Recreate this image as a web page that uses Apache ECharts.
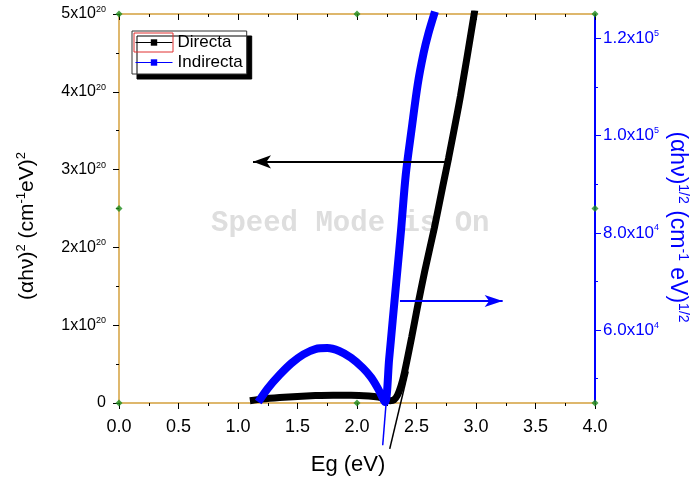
<!DOCTYPE html>
<html>
<head>
<meta charset="utf-8">
<script src="https://cdn.jsdelivr.net/npm/echarts@6/dist/echarts.min.js"></script>
<style>
  html, body { margin: 0; padding: 0; background: #fff; }
  #chart { width: 695px; height: 482px; }
</style>
</head>
<body>
<div id="chart"></div>
<script>
  // Directa: (alpha h nu)^2, left axis
  const directaX = [1.10, 1.20, 1.35, 1.50, 1.65, 1.80, 1.95, 2.10, 2.18, 2.24, 2.28, 2.31, 2.34, 2.37, 2.40, 2.46, 2.51, 2.57, 2.65, 2.72, 2.77, 2.87, 2.99]
  const directaY = [0.03e20, 0.05e20, 0.07e20, 0.085e20, 0.095e20, 0.10e20, 0.10e20, 0.09e20, 0.075e20, 0.05e20, 0.03e20, 0.04e20, 0.10e20, 0.22e20, 0.40e20, 0.85e20, 1.25e20, 1.70e20, 2.25e20, 2.78e20, 3.15e20, 3.95e20, 5.05e20]
  // Indirecta: (alpha h nu)^(1/2), right axis
  const indirectaX = [1.17, 1.25, 1.35, 1.45, 1.55, 1.65, 1.75, 1.85, 1.95, 2.05, 2.12, 2.18, 2.235, 2.27, 2.30, 2.34, 2.37, 2.41, 2.46, 2.51, 2.56, 2.60, 2.655]
  const indirectaY = [45200, 48000, 50800, 53200, 55000, 56100, 56300, 55700, 54300, 52200, 50200, 47800, 45200, 54000, 62000, 72500, 80500, 92000, 101500, 110500, 117000, 121000, 125500]
  // tangent lines (extrapolation to the energy axis)
  const tangentDirX = [2.275, 2.43]
  const tangentDirY = [-0.59e20, 0.405e20]
  const tangentIndX = [2.216, 2.36]
  const tangentIndY = [36300, 80000]
  // arrows pointing to the axis of each curve
  const arrowDirX = [2.765, 1.126]
  const arrowDirY = [3.10e20, 3.10e20]
  const arrowIndX = [2.361, 3.224]
  const arrowIndY = [66000, 66000]
  // tick values
  const xTicks = [0, 4, 0.5]
  const leftTicks = [0, 5e20, 1e20]
  const rightRange = [45000, 125000]
  const rightLabels = [60000, 80000, 100000, 120000]
  const rightMinor = [50000, 70000, 90000, 110000]
  // Origin selection handles
  const handleX = [0, 2, 4, 0, 2, 4, 0, 4]
  const handleY = [0, 0, 0, 5e20, 5e20, 5e20, 2.5e20, 2.5e20]

  const FONT = '"Liberation Sans", Arial, sans-serif'
  const GOLD = '#d4a03c'
  const BLUE = '#0000ff'

  const zip = (xs, ys) => xs.map((x, i) => [x, ys[i]])

  const myChart = echarts.init(document.getElementById('chart'))

  const xCommon = {
    type: 'value',
    min: xTicks[0],
    max: xTicks[1],
    interval: xTicks[2],
    splitLine: { show: false },
    axisLine: { show: true, onZero: false, lineStyle: { color: GOLD, width: 1.5 } },
  }

  const option = {
    animation: false,
    grid: { left: 119, right: 100, top: 14, bottom: 79, containLabel: false },
    legend: {
      data: ['Directa', 'Indirecta'],
      orient: 'vertical',
      left: 132,
      top: 31,
      padding: [3, 4, 3, 3],
      itemWidth: 37,
      itemHeight: 8,
      itemGap: 3,
      backgroundColor: '#fff',
      borderColor: '#333',
      borderWidth: 1,
      borderRadius: 0,
      shadowColor: '#000',
      shadowBlur: 0,
      shadowOffsetX: 5,
      shadowOffsetY: 5,
      lineStyle: { width: 1 },
      textStyle: { fontSize: 17, fontFamily: FONT, color: '#000' },
    },
    xAxis: [
      Object.assign({}, xCommon, {
        position: 'bottom',
        axisTick: { show: true, length: 6, lineStyle: { color: '#000' } },
        minorTick: { show: true, splitNumber: 2, length: 3, lineStyle: { color: '#000' } },
        axisLabel: {
          margin: 15, fontSize: 18, fontFamily: FONT, color: '#000',
          formatter: v => v.toFixed(1)
        },
      }),
      Object.assign({}, xCommon, {
        position: 'top',
        axisTick: { show: true, inside: true, length: 6, lineStyle: { color: '#000' } },
        minorTick: { show: true, splitNumber: 2, length: 3, lineStyle: { color: '#000' } },
        axisLabel: { show: false },
      }),
    ],
    yAxis: [
      {
        type: 'value',
        position: 'left',
        min: leftTicks[0],
        max: leftTicks[1],
        interval: leftTicks[2],
        splitLine: { show: false },
        axisLine: { show: true, onZero: false, lineStyle: { color: GOLD, width: 1.5 } },
        axisTick: { show: true, length: 6, lineStyle: { color: '#000' } },
        minorTick: { show: true, splitNumber: 2, length: 3, lineStyle: { color: '#000' } },
        axisLabel: {
          margin: 13, fontFamily: FONT, color: '#000', fontSize: 16,
          formatter: v => v === 0 ? '{m|0}' : '{m|' + Math.round(v / 1e20) + 'x10}{e|20}',
          rich: {
            m: { fontSize: 16, fontFamily: FONT, color: '#000', lineHeight: 18 },
            e: { fontSize: 9, fontFamily: FONT, color: '#000', verticalAlign: 'top', lineHeight: 9 },
          }
        },
      },
      {
        type: 'value',
        position: 'right',
        min: rightRange[0],
        max: rightRange[1],
        splitLine: { show: false },
        axisLine: { show: true, onZero: false, lineStyle: { color: BLUE, width: 2 } },
        axisTick: { show: true, length: 6, customValues: rightLabels, lineStyle: { color: BLUE } },
        axisLabel: {
          margin: 8, fontFamily: FONT, color: BLUE, fontSize: 17,
          customValues: rightLabels,
          formatter: v => {
            const e = Math.floor(Math.log10(v) + 1e-9)
            return '{m|' + (v / Math.pow(10, e)).toFixed(1) + 'x10}{e|' + e + '}'
          },
          rich: {
            m: { fontSize: 17, fontFamily: FONT, color: BLUE, lineHeight: 19 },
            e: { fontSize: 9, fontFamily: FONT, color: BLUE, verticalAlign: 'top', lineHeight: 9 },
          }
        },
      },
      {
        type: 'value',
        position: 'right',
        min: rightRange[0],
        max: rightRange[1],
        splitLine: { show: false },
        axisLine: { show: false, onZero: false },
        axisTick: { show: true, length: 3, customValues: rightMinor, lineStyle: { color: BLUE } },
        axisLabel: { show: false, customValues: rightMinor },
      },
    ],
    graphic: [
      {
        type: 'text', z: 0, left: 211, top: 209,
        style: { text: 'Speed Mode is On', font: 'bold 29px "Liberation Mono", monospace', fill: '#dedede' }
      },
      {
        type: 'text', x: 27, y: 226, rotation: Math.PI / 2, z: 50,
        style: {
          text: '{n|(αhν)}{s|2}{n| (cm}{s|-1}{n|eV)}{s|2}',
          align: 'center', verticalAlign: 'middle',
          rich: {
            n: { fontSize: 21, fontFamily: FONT, fill: '#000', lineHeight: 24 },
            s: { fontSize: 13, fontFamily: FONT, fill: '#000', verticalAlign: 'top', lineHeight: 13 },
          }
        }
      },
      {
        type: 'text', x: 677, y: 227, rotation: -Math.PI / 2, z: 50,
        style: {
          text: '{n|(αhν)}{s|1/2}{n| (cm}{s|-1}{n| eV)}{s|1/2}',
          align: 'center', verticalAlign: 'middle',
          rich: {
            n: { fontSize: 23, fontFamily: FONT, fill: BLUE, lineHeight: 26 },
            s: { fontSize: 14, fontFamily: FONT, fill: BLUE, verticalAlign: 'top', lineHeight: 14 },
          }
        }
      },
      {
        type: 'text', x: 348, y: 465, z: 50,
        style: { text: 'Eg (eV)', font: '22px "Liberation Sans", Arial, sans-serif', fill: '#000', align: 'center', verticalAlign: 'middle' }
      },
      {
        type: 'rect', z: 100, shape: { x: 134, y: 33, width: 39, height: 19 },
        style: { fill: 'none', stroke: '#e03030', lineWidth: 1 }
      },
    ],
    series: [
      {
        name: 'tangentDir', type: 'line', yAxisIndex: 0, clip: false, silent: true, z: 2,
        showSymbol: false, symbol: 'none',
        lineStyle: { color: '#000', width: 1.5 },
        data: zip(tangentDirX, tangentDirY),
        markLine: {
          silent: true, symbol: ['none', 'arrow'], symbolSize: [10, 18],
          label: { show: false },
          lineStyle: { color: '#000', width: 2, type: 'solid' },
          data: [[{ coord: [arrowDirX[0], arrowDirY[0]] }, { coord: [arrowDirX[1], arrowDirY[1]] }]]
        }
      },
      {
        name: 'tangentInd', type: 'line', yAxisIndex: 1, clip: false, silent: true, z: 2,
        showSymbol: false, symbol: 'none',
        lineStyle: { color: BLUE, width: 1.5 },
        data: zip(tangentIndX, tangentIndY),
        markLine: {
          silent: true, symbol: ['none', 'arrow'], symbolSize: [9, 18],
          label: { show: false },
          lineStyle: { color: BLUE, width: 2, type: 'solid' },
          data: [[{ coord: [arrowIndX[0], arrowIndY[0]] }, { coord: [arrowIndX[1], arrowIndY[1]] }]]
        }
      },
      {
        name: 'Directa', type: 'line', yAxisIndex: 0, z: 3,
        symbol: 'rect', symbolSize: 6, showSymbol: false, smooth: 0.25,
        color: '#000',
        lineStyle: { color: '#000', width: 7 },
        data: zip(directaX, directaY),
      },
      {
        name: 'Indirecta', type: 'line', yAxisIndex: 1, z: 4,
        symbol: 'rect', symbolSize: 6, showSymbol: false, smooth: 0.3,
        color: BLUE,
        lineStyle: { color: BLUE, width: 8 },
        data: zip(indirectaX, indirectaY),
      },
      {
        name: 'handles', type: 'scatter', yAxisIndex: 0, clip: false, silent: true, z: 10,
        symbol: 'diamond', symbolSize: 7,
        itemStyle: { color: '#1e8c1e' },
        data: zip(handleX, handleY),
      },
    ]
  };
  myChart.setOption(option);
</script>
</body>
</html>
